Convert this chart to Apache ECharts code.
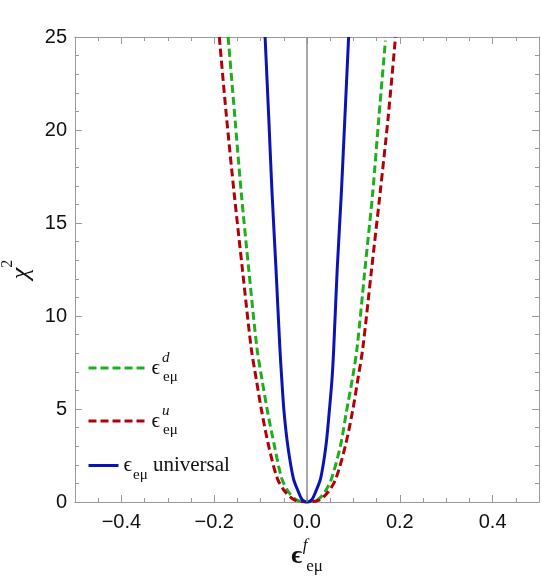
<!DOCTYPE html>
<html>
<head>
<meta charset="utf-8">
<script src="https://cdn.jsdelivr.net/npm/echarts@6/dist/echarts.min.js"></script>
<style>
  html, body { margin: 0; padding: 0; background: #fff; }
  #chart { width: 542px; height: 584px; }
</style>
</head>
<body>
<div id="chart"></div>
<script>
// values (x = epsilon, y = chi^2)
const greenX = [-0.170, -0.1555, -0.1416, -0.1254, -0.108, -0.0975, -0.085, -0.0705, -0.0545, -0.040, -0.022, 0,
  0.022, 0.0387, 0.053, 0.0724, 0.085, 0.098, 0.108, 0.1247, 0.1415, 0.155, 0.169]
const greenY = [25, 20.7, 16.6, 12.47, 8.3, 6.65, 4.86, 3.06, 1.27, 0.55, 0.1, 0,
  0.1, 0.55, 1.27, 3.06, 4.86, 6.65, 8.3, 12.47, 16.6, 20.7, 24.8]

const redX = [-0.189, -0.1735, -0.157, -0.139, -0.1204, -0.1097, -0.0975, -0.083, -0.064, -0.047, -0.026, 0,
  0.026, 0.046, 0.0624, 0.083, 0.098, 0.110, 0.1204, 0.139, 0.1575, 0.175, 0.1907]
const redY = [25, 20.7, 16.6, 12.47, 8.3, 6.65, 4.86, 3.06, 1.27, 0.55, 0.1, 0,
  0.1, 0.55, 1.27, 3.06, 4.86, 6.65, 8.3, 12.47, 16.6, 20.7, 25]

const blueX = [-0.0903, -0.0825, -0.0753, -0.0667, -0.0585, -0.0545, -0.0495, -0.0416, -0.0294, -0.0186, -0.011, -0.005, 0,
  0.005, 0.011, 0.0187, 0.0294, 0.041, 0.048, 0.054, 0.0577, 0.065, 0.074, 0.0817, 0.0897]
const blueY = [25, 20.7, 16.6, 12.47, 8.3, 6.65, 4.86, 3.06, 1.27, 0.55, 0.14, 0.02, 0,
  0.02, 0.14, 0.55, 1.27, 3.06, 4.86, 6.65, 8.3, 12.47, 16.6, 20.7, 25]

const xMajorTicks = [-0.4, -0.2, 0, 0.2, 0.4]
const yTicks = [0, 5, 10, 15, 20, 25]

const colors = { green: '#1cb01c', red: '#b30008', blue: '#0a14b4' }

const pairs = (xs, ys) => xs.map((x, i) => [x, ys[i]])

const frameColor = '#9a9a9a'
const serif = 'Liberation Serif'
const sans = 'Liberation Sans'

const legendRich = {
  e: { fontFamily: serif, fontSize: 21, color: '#111', lineHeight: 34, verticalAlign: 'middle' },
  sup: { fontFamily: serif, fontSize: 15, fontStyle: 'italic', color: '#111', width: 0, verticalAlign: 'top', padding: [0, 0, 0, 2] },
  sub: { fontFamily: serif, fontSize: 15, color: '#111', verticalAlign: 'bottom', padding: [0, 0, 0, 1] },
  t: { fontFamily: serif, fontSize: 21, color: '#111', verticalAlign: 'middle' }
}
const legendLabels = {
  green: '{e|ϵ}{sup|d}{sub|eμ}',
  red: '{e|ϵ}{sup|u}{sub|eμ}',
  blue: '{e|ϵ}{sub|eμ}{t| universal}'
}

const makeLegend = (name, top, width, dash) => ({
  data: [name],
  left: 87,
  top: top,
  padding: 0,
  itemWidth: width,
  itemHeight: 14,
  selectedMode: false,
  itemStyle: { opacity: 0 },
  lineStyle: { width: 3, type: dash },
  formatter: () => legendLabels[name],
  textStyle: { rich: legendRich }
})

const chart = echarts.init(document.getElementById('chart'))

const baseX = {
  type: 'value',
  min: -0.5,
  max: 0.5,
  splitLine: { show: false },
  axisLine: { show: true, onZero: false, lineStyle: { color: frameColor, width: 1 } }
}

const baseY = {
  type: 'value',
  min: 0,
  max: 25,
  interval: 5,
  splitLine: { show: false },
  axisLine: { show: true, onZero: false, lineStyle: { color: frameColor } },
  axisTick: { show: true, inside: true, length: 7, lineStyle: { color: frameColor } },
  minorTick: { show: true, splitNumber: 5, length: 4, lineStyle: { color: frameColor } }
}

chart.setOption({
  animation: false,
  backgroundColor: '#fff',
  grid: { left: 75, right: 3, top: 37, bottom: 82, containLabel: false, outerBoundsMode: 'none' },
  legend: [
    makeLegend('green', 351, 58, [8, 4]),
    makeLegend('red', 404, 58, [8, 4]),
    makeLegend('blue', 455, 30, 'solid')
  ],
  xAxis: [
    // bottom, minor ticks, carries the data
    Object.assign({}, baseX, {
      position: 'bottom',
      interval: 0.05,
      axisTick: { show: true, inside: true, length: 4, lineStyle: { color: frameColor } },
      axisLabel: { show: false }
    }),
    // bottom, major ticks and labels
    Object.assign({}, baseX, {
      position: 'bottom',
      axisTick: { show: true, inside: true, length: 7, customValues: xMajorTicks, lineStyle: { color: frameColor } },
      axisLabel: {
        show: true,
        customValues: xMajorTicks,
        margin: 10,
        fontFamily: sans,
        fontSize: 20,
        color: '#111',
        formatter: v => (v < 0 ? '\u2212' : '') + Math.abs(v).toFixed(1)
      },
      name: '{e|ϵ}{sup|f}{sub|eμ}',
      nameLocation: 'middle',
      nameGap: 22,
      nameTextStyle: {
        rich: {
          e: { fontFamily: serif, fontSize: 26, fontWeight: 'bold', color: '#111', lineHeight: 38, verticalAlign: 'middle' },
          sup: { fontFamily: serif, fontSize: 17, fontStyle: 'italic', color: '#111', width: 0, verticalAlign: 'top', padding: [0, 0, 0, 3] },
          sub: { fontFamily: serif, fontSize: 17, color: '#111', verticalAlign: 'bottom', padding: [0, 0, 0, 1] }
        }
      }
    }),
    // top frame
    Object.assign({}, baseX, {
      position: 'top',
      interval: 0.05,
      axisTick: { show: true, inside: true, length: 4, lineStyle: { color: frameColor } },
      axisLabel: { show: false }
    }),
    Object.assign({}, baseX, {
      position: 'top',
      axisTick: { show: true, inside: true, length: 7, customValues: xMajorTicks, lineStyle: { color: frameColor } },
      axisLabel: { show: false }
    })
  ],
  yAxis: [
    Object.assign({}, baseY, {
      position: 'left',
      axisLabel: {
        customValues: yTicks,
        margin: 8,
        fontFamily: sans,
        fontSize: 20,
        color: '#111'
      },
      name: '{c|χ}{s|2}',
      nameLocation: 'middle',
      nameGap: 34,
      nameRotate: 90,
      nameTextStyle: {
        rich: {
          c: { fontFamily: serif, fontSize: 26, fontStyle: 'italic', color: '#111', lineHeight: 34, verticalAlign: 'bottom' },
          s: { fontFamily: serif, fontSize: 16, color: '#111', verticalAlign: 'top' }
        }
      }
    }),
    Object.assign({}, baseY, {
      position: 'right',
      axisLabel: { show: false }
    })
  ],
  series: [
    {
      name: 'zero',
      type: 'line',
      data: [],
      silent: true,
      markLine: {
        silent: true,
        symbol: 'none',
        label: { show: false },
        lineStyle: { color: '#8c8c8c', width: 1.5, type: 'solid' },
        data: [{ xAxis: 0 }]
      }
    },
    {
      name: 'green',
      type: 'line',
      data: pairs(greenX, greenY),
      showSymbol: false,
      symbol: 'none',
      smooth: 0.3,
      lineStyle: { color: colors.green, width: 3, type: [8, 4] },
      itemStyle: { color: colors.green }
    },
    {
      name: 'red',
      type: 'line',
      data: pairs(redX, redY),
      showSymbol: false,
      symbol: 'none',
      smooth: 0.3,
      lineStyle: { color: colors.red, width: 3, type: [8, 4] },
      itemStyle: { color: colors.red }
    },
    {
      name: 'blue',
      type: 'line',
      data: pairs(blueX, blueY),
      showSymbol: false,
      symbol: 'none',
      smooth: 0.3,
      lineStyle: { color: colors.blue, width: 3 },
      itemStyle: { color: colors.blue }
    }
  ]
})
</script>
</body>
</html>
